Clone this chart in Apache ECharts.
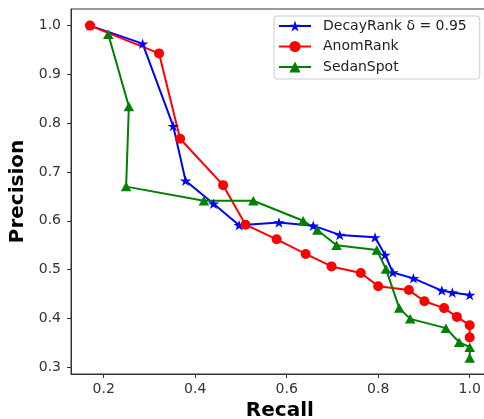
<!DOCTYPE html>
<html>
<head>
<meta charset="utf-8">
<script src="https://cdn.jsdelivr.net/npm/echarts@6/dist/echarts.min.js"></script>
<style>html,body{margin:0;padding:0;background:#fff;}#c{width:484px;height:419px;}</style>
</head>
<body>
<div id="c"></div>
<script>
const seriesNames = ['DecayRank δ = 0.95', 'AnomRank', 'SedanSpot'];
const recallDecay = [0.17, 0.285, 0.352, 0.379, 0.44, 0.496, 0.583, 0.658, 0.716, 0.793, 0.815, 0.832, 0.877, 0.939, 0.962, 1.0];
const precDecay   = [1.0, 0.963, 0.794, 0.682, 0.635, 0.591, 0.5965, 0.590, 0.571, 0.566, 0.530, 0.494, 0.482, 0.457, 0.453, 0.448];
const recallAnom  = [0.17, 0.321, 0.367, 0.461, 0.510, 0.578, 0.6415, 0.698, 0.762, 0.800, 0.867, 0.901, 0.944, 0.972, 1.0, 1.0];
const precAnom    = [1.0, 0.943, 0.768, 0.673, 0.592, 0.562, 0.532, 0.5065, 0.493, 0.466, 0.458, 0.435, 0.421, 0.403, 0.386, 0.361];
const recallSedan = [0.21, 0.255, 0.249, 0.419, 0.527, 0.636, 0.667, 0.709, 0.797, 0.817, 0.846, 0.870, 0.948, 0.977, 1.0, 1.0];
const precSedan   = [0.982, 0.834, 0.670, 0.641, 0.641, 0.600, 0.581, 0.550, 0.540, 0.501, 0.421, 0.399, 0.380, 0.351, 0.341, 0.319];
const xTicks = [0.2, 0.4, 0.6, 0.8, 1.0];
const yTicks = [0.3, 0.4, 0.5, 0.6, 0.7, 0.8, 0.9, 1.0];

const pair = (xs, ys) => xs.map((x, i) => [x, ys[i]]);
const star = 'path://M100 0 L122.45 69.1 L195.1 69.1 L136.3 111.8 L158.8 180.9 L100 138.2 L41.2 180.9 L63.7 111.8 L4.9 69.1 L77.55 69.1 Z';
const font = 'DejaVu Sans';

const chart = echarts.init(document.getElementById('c'), null, {renderer: 'canvas'});
chart.setOption({
  animation: false,
  backgroundColor: '#fff',
  grid: {left: 71, top: 9, right: -4.7, bottom: 45, show: true, borderColor: '#333', borderWidth: 1, outerBoundsMode: 'none', containLabel: false},
  legend: {
    orient: 'vertical', left: 274, top: 16,
    padding: [3, 13, 5, 4], itemGap: 6.5, itemWidth: 32, itemHeight: 14,
    borderColor: '#cccccc', borderWidth: 1, borderRadius: 3, backgroundColor: 'rgba(255,255,255,0.8)',
    textStyle: {fontFamily: font, fontSize: 14, color: '#222', padding: [0, 0, 0, 7]},
    data: seriesNames
  },
  xAxis: {
    type: 'value', min: 0.1285, max: 1.0415,
    name: 'Recall', nameLocation: 'middle', nameGap: 23,
    nameTextStyle: {fontFamily: font, fontSize: 20, fontWeight: 'bold', color: '#000'},
    axisLine: {show: true, lineStyle: {color: '#333', width: 1}},
    axisTick: {show: true, inside: false, length: 4, lineStyle: {color: '#333'}, customValues: xTicks},
    axisLabel: {fontFamily: font, fontSize: 14, color: '#333', margin: 8, customValues: xTicks, formatter: v => v.toFixed(1)},
    splitLine: {show: false}
  },
  yAxis: {
    type: 'value', min: 0.286, max: 1.034,
    name: 'Precision', nameLocation: 'middle', nameGap: 43, nameRotate: 90,
    nameTextStyle: {fontFamily: font, fontSize: 20, fontWeight: 'bold', color: '#000'},
    axisLine: {show: true, lineStyle: {color: '#333', width: 1}},
    axisTick: {show: true, inside: false, length: 4, lineStyle: {color: '#333'}, customValues: yTicks},
    axisLabel: {fontFamily: font, fontSize: 14, color: '#333', margin: 10, customValues: yTicks, formatter: v => v.toFixed(1)},
    splitLine: {show: false}
  },
  series: [
    {name: seriesNames[0], type: 'line', data: pair(recallDecay, precDecay), color: '#0000ff',
     lineStyle: {width: 2, color: '#0000ff'}, symbol: star, symbolSize: [11.5, 11], symbolKeepAspect: true,
     itemStyle: {color: '#0000ff'}, showAllSymbol: true},
    {name: seriesNames[1], type: 'line', data: pair(recallAnom, precAnom), color: '#ff0000',
     lineStyle: {width: 2, color: '#ff0000'}, symbol: 'circle', symbolSize: 10,
     itemStyle: {color: '#ff0000'}, showAllSymbol: true},
    {name: seriesNames[2], type: 'line', data: pair(recallSedan, precSedan), color: '#008000',
     lineStyle: {width: 2, color: '#008000'}, symbol: 'triangle', symbolSize: [10.5, 9.5],
     itemStyle: {color: '#008000'}, showAllSymbol: true}
  ]
});
</script>
</body>
</html>
